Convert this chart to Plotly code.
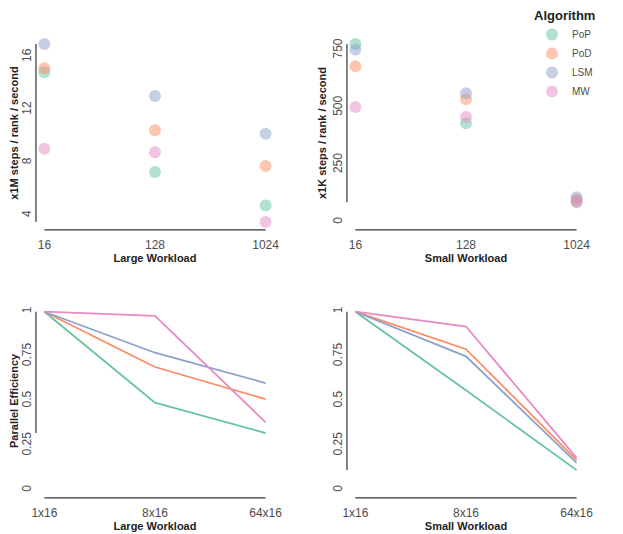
import plotly.graph_objs as go
from plotly.subplots import make_subplots

# page body has an 8px margin, so the figure sits 8px in from the window corner
OFF = 8
W, H = 623 - OFF, 534 - OFF

algorithms = ['PoP', 'PoD', 'LSM', 'MW']
colors = ['#66C2A5', '#FC8D62', '#8DA0CB', '#E78AC3']

ranks = ['16', '128', '1024']
nodes = ['1x16', '8x16', '64x16']

# x1M steps / rank / second (large workload), one list per algorithm
large_rate = [
    [14.85, 7.3, 4.75],
    [15.15, 10.45, 7.75],
    [17.0, 13.05, 10.2],
    [9.05, 8.8, 3.5],
]
# x1K steps / rank / second (small workload)
small_rate = [
    [778, 432, 87],
    [680, 536, 99],
    [753, 563, 109],
    [502, 459, 90],
]
# parallel efficiency
large_eff = [
    [1.0, 0.49, 0.32],
    [1.0, 0.69, 0.51],
    [1.0, 0.77, 0.60],
    [1.0, 0.977, 0.38],
]
small_eff = [
    [1.0, 0.56, 0.112],
    [1.0, 0.79, 0.168],
    [1.0, 0.75, 0.153],
    [1.0, 0.917, 0.181],
]

rate_ticks_large = [4, 8, 12, 16]
rate_ticks_small = [0, 250, 500, 750]
eff_ticks = [0, 0.25, 0.5, 0.75, 1]
eff_labels = ['0', '0.25', '0.5', '0.75', '1']

FONT = 'Liberation Sans, Arial, sans-serif'
TICK_COL = '#4d4d4d'
LINE_COL = '#333333'

fig = make_subplots(rows=2, cols=2)

panels = [
    (1, 1, ranks, large_rate, 'markers', True),
    (1, 2, ranks, small_rate, 'markers', False),
    (2, 1, nodes, large_eff, 'lines', False),
    (2, 2, nodes, small_eff, 'lines', False),
]

for row, col, xs, data, mode, legend in panels:
    for i, name in enumerate(algorithms):
        if mode == 'markers':
            fig.add_trace(go.Scatter(x=xs, y=data[i], name=name, mode='markers',
                                     marker=dict(color=colors[i], size=12, opacity=0.5),
                                     showlegend=legend, legendgroup=name),
                          row=row, col=col)
        else:
            fig.add_trace(go.Scatter(x=xs, y=data[i], name=name, mode='lines',
                                     line=dict(color=colors[i], width=1.8),
                                     showlegend=False, legendgroup=name),
                          row=row, col=col)

def padded(lo, hi, f=0.05):
    d = (hi - lo) * f
    return [lo - d, hi + d]

def all_vals(data):
    return [v for s in data for v in s]

# ranges (ggplot-like 5% expansion)
r_large = padded(min(all_vals(large_rate)), max(all_vals(large_rate)))
r_small = padded(0, max(all_vals(small_rate)))
r_eff = padded(0, 1)

# panel positions given in window pixels
px = lambda a, b: [(a - OFF) / W, (b - OFF) / W]
py = lambda top, bot: [1 - (bot - OFF) / H, 1 - (top - OFF) / H]

x_dom = {1: px(35, 275), 2: px(346, 586)}
y_dom = {1: py(35, 231), 2: py(302.8, 499)}

x_titles = {(1, 1): 'Large Workload', (1, 2): 'Small Workload',
            (2, 1): 'Large Workload', (2, 2): 'Small Workload'}
y_titles = {(1, 1): 'x1M steps / rank / second', (1, 2): 'x1K steps / rank / second',
            (2, 1): 'Parallel Efficiency', (2, 2): ''}
y_ranges = {(1, 1): r_large, (1, 2): r_small, (2, 1): r_eff, (2, 2): r_eff}
y_ticks = {(1, 1): (rate_ticks_large, [str(t) for t in rate_ticks_large]),
           (1, 2): (rate_ticks_small, [str(t) for t in rate_ticks_small]),
           (2, 1): (eff_ticks, eff_labels), (2, 2): (eff_ticks, eff_labels)}
y_data = {(1, 1): large_rate, (1, 2): small_rate, (2, 1): large_eff, (2, 2): small_eff}

xpad = 0.085
for row, col, xs, data, mode, legend in panels:
    key = (row, col)
    fig.update_xaxes(type='category', range=[-xpad, len(xs) - 1 + xpad],
                     domain=x_dom[col], showgrid=False, zeroline=False, showline=False,
                     ticks='', ticklen=0, ticklabelstandoff=5, automargin=False,
                     tickfont=dict(size=12, color=TICK_COL, family=FONT),
                     title=dict(text='<b>' + x_titles[key] + '</b>', standoff=0,
                                font=dict(size=11, color='#222222', family=FONT)),
                     row=row, col=col)
    tv, tt = y_ticks[key]
    fig.update_yaxes(range=y_ranges[key], domain=y_dom[row], tickvals=tv, ticktext=tt,
                     tickangle=-90, showgrid=False, zeroline=False, showline=False,
                     ticks='', ticklen=0, ticklabelstandoff=1, automargin=False,
                     tickfont=dict(size=12, color=TICK_COL, family=FONT),
                     title=dict(text='<b>' + y_titles[key] + '</b>' if y_titles[key] else '',
                                standoff=1, font=dict(size=11, color='#222222', family=FONT)),
                     row=row, col=col)

# range frames: axis lines only span the data (kept just inside the panel so they are not clipped)
n = 1
for row, col, xs, data, mode, legend in panels:
    sfx = '' if n == 1 else str(n)
    vals = all_vals(y_data[(row, col)])
    yr = y_ranges[(row, col)]
    fig.add_shape(type='line', xref='x' + sfx + ' domain', yref='y' + sfx,
                  x0=0.004, x1=0.004, y0=min(vals), y1=max(vals),
                  line=dict(color=LINE_COL, width=1.2))
    ybase = yr[0] + 0.006 * (yr[1] - yr[0])
    fig.add_shape(type='line', xref='x' + sfx, yref='y' + sfx,
                  x0=0, x1=len(xs) - 1, y0=ybase, y1=ybase,
                  line=dict(color=LINE_COL, width=1.2))
    n += 1

fig.update_layout(
    width=W, height=H,
    margin=dict(l=0, r=0, t=0, b=0, autoexpand=False),
    paper_bgcolor='white', plot_bgcolor='white',
    font=dict(family=FONT, color='#222222'),
    legend=dict(x=(532 - OFF) / W, y=1 + 5 / H, xanchor='left', yanchor='top',
                title=dict(text='<b>Algorithm</b>', side='top',
                           font=dict(size=13, color='#222222', family=FONT)),
                font=dict(size=10, color=TICK_COL, family=FONT),
                itemsizing='constant', tracegroupgap=0,
                bgcolor='rgba(0,0,0,0)'),
)

fig.write_html("out.html")
